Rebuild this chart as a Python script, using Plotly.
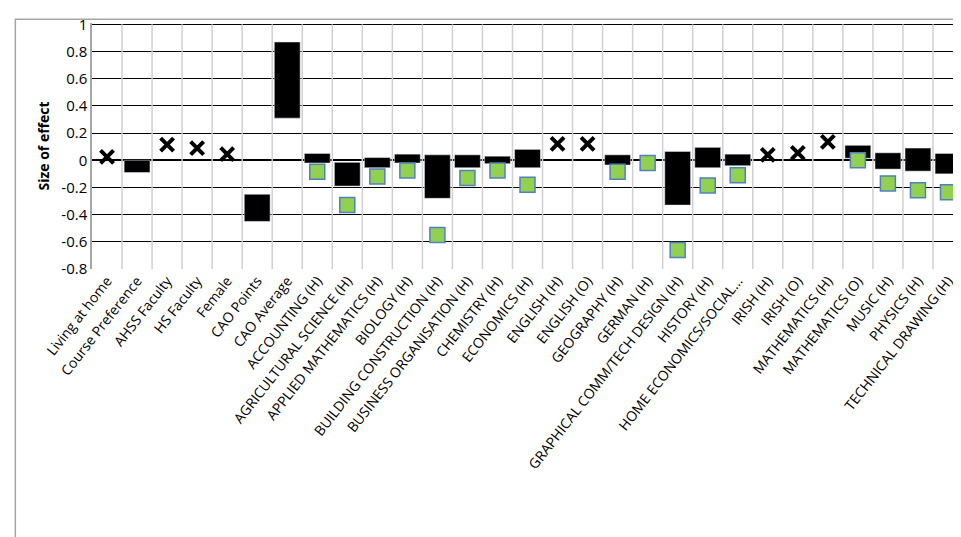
import plotly.graph_objects as go

categories = ["Living at home", "Course Preference", "AHSS Faculty", "HS Faculty", "Female",
              "CAO Points", "CAO Average", "ACCOUNTING (H)", "AGRICULTURAL SCIENCE (H)",
              "APPLIED MATHEMATICS (H)", "BIOLOGY (H)", "BUILDING CONSTRUCTION (H)",
              "BUSINESS ORGANISATION (H)", "CHEMISTRY (H)", "ECONOMICS (H)", "ENGLISH (H)",
              "ENGLISH (O)", "GEOGRAPHY (H)", "GERMAN (H)", "GRAPHICAL COMM/TECH DESIGN (H)",
              "HISTORY (H)", "HOME ECONOMICS/SOCIAL...", "IRISH (H)", "IRISH (O)",
              "MATHEMATICS (H)", "MATHEMATICS (O)", "MUSIC (H)", "PHYSICS (H)",
              "TECHNICAL DRAWING (H)"]

# floating bars: low / high (None = no bar)
bar_low = [None, -0.09, None, None, None, -0.45, 0.31, -0.02, -0.19, -0.055, -0.02, -0.28,
           -0.055, -0.025, -0.055, None, None, -0.035, None, -0.33, -0.055, -0.04, None, None,
           None, 0.015, -0.065, -0.08, -0.10]
bar_high = [None, 0.0, None, None, None, -0.25, 0.87, 0.05, -0.015, 0.02, 0.045, 0.04,
            0.04, 0.03, 0.08, None, None, 0.04, None, 0.065, 0.095, 0.045, None, None,
            None, 0.11, 0.055, 0.09, 0.05]

# green squares
green = [None, None, None, None, None, None, None, -0.085, -0.33, -0.12, -0.075, -0.55,
         -0.13, -0.075, -0.18, None, None, -0.085, -0.02, -0.66, -0.185, -0.11, None, None,
         None, 0.0, -0.17, -0.22, -0.235]

# crosses
cross = [0.025, None, 0.115, 0.09, 0.045, None, None, None, None, None, None, None, None,
         None, None, 0.12, 0.12, None, None, None, None, None, 0.04, 0.055, 0.135, None,
         None, None, None]

yticks = [-0.8, -0.6, -0.4, -0.2, 0, 0.2, 0.4, 0.6, 0.8, 1]

xs = list(range(len(categories)))
bx = [i for i in xs if bar_low[i] is not None]

fig = go.Figure()
fig.add_trace(go.Scatter(
    x=xs, y=green, mode='markers',
    marker=dict(symbol='square', size=15, color='#92d050', line=dict(color='#4f81bd', width=1.5))))
fig.add_trace(go.Bar(
    x=bx, base=[bar_low[i] for i in bx], y=[bar_high[i] - bar_low[i] for i in bx],
    width=0.86, marker=dict(color='black')))
fig.add_trace(go.Scatter(
    x=xs, y=cross, mode='markers',
    marker=dict(symbol='x-thin', size=13, color='black', line=dict(color='black', width=4))))

# light vertical separators between categories
vlines = [dict(type='line', xref='x', yref='y', x0=i + 0.5, x1=i + 0.5, y0=-0.8, y1=1,
               layer='between', line=dict(color='#d0d0d0', width=1.5))
          for i in xs[:-1]]

fig.update_layout(
    width=961, height=537, showlegend=False,
    margin=dict(l=84, r=6, t=8, b=276),
    plot_bgcolor='white', paper_bgcolor='white',
    font=dict(family='Open Sans', color='black'),
    shapes=vlines + [dict(type='rect', xref='paper', yref='paper', x0=-0.088, x1=1.01,
                          y0=-1.2, y1=1.015, line=dict(color='#a6a6a6', width=1.5))],
)
fig.update_xaxes(
    range=[-0.5, len(categories) - 0.5], tickvals=xs, ticktext=categories, automargin=False,
    tickangle=-52, tickfont=dict(size=14), showgrid=False, zeroline=False)
fig.update_yaxes(
    range=[-0.8, 1.01], tickvals=yticks, ticktext=[f'{v:g}' for v in yticks],
    tickfont=dict(size=15), automargin=True, ticklabeloverflow='allow',
    showgrid=True, gridcolor='black', gridwidth=1.2,
    zeroline=True, zerolinecolor='black', zerolinewidth=1.5,
    showline=True, linecolor='#a6a6a6', linewidth=1.5,
    title=dict(text='<b>Size of effect</b>', font=dict(size=14), standoff=8))

fig.write_html("out.html")
